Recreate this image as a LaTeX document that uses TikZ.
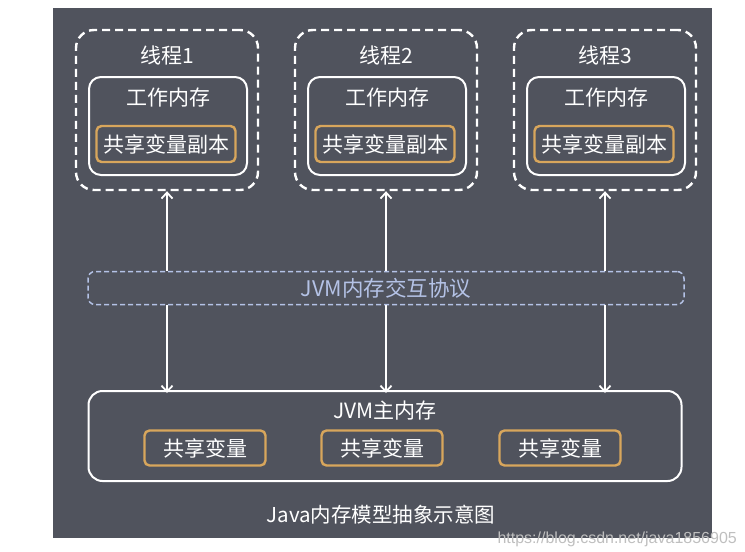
\documentclass[tikz,border=0pt]{standalone}
\usepackage{fontspec}
\setmainfont{Noto Sans CJK SC}
\newfontfamily\wmfont{Liberation Sans}
\usetikzlibrary{arrows.meta}
\definecolor{bgdark}{HTML}{50535D}
\definecolor{copyorange}{HTML}{D8A65C}
\definecolor{protoblue}{HTML}{B4C2E6}
\begin{document}
\begin{tikzpicture}[x=1pt,y=-1pt,
    threadbox/.style={draw=white, line width=2.4pt, dash pattern=on 8pt off 5pt, rounded corners=18pt, minimum width=182pt, minimum height=160pt},
    workbox/.style={draw=white, line width=2pt, rounded corners=12pt, minimum width=158pt, minimum height=98pt},
    copybox/.style={draw=copyorange, line width=2.4pt, rounded corners=5pt, minimum width=139pt, minimum height=36pt, text=white, font=\fontsize{21}{23}\selectfont},
    varbox/.style={draw=copyorange, line width=2.4pt, rounded corners=5pt, minimum width=121pt, minimum height=35pt, text=white, font=\fontsize{21}{23}\selectfont},
    lbl/.style={text=white, font=\fontsize{21}{23}\selectfont},
    arr/.style={draw=white, line width=1.8pt, -{Straight Barb[length=6pt,width=11pt]}}]
     \fill[bgdark] (53,8) rectangle (712,538);
     \useasboundingbox (0,0) rectangle (745,552);
     % threads
     \foreach \i/\x in {1/167,2/386,3/605}{
       \node[threadbox] (thr\i) at (\x,110) {};
       \node[workbox] (work\i) at (\x+1,126) {};
       \node[copybox] (copy\i) at (\x-1,144) {共享变量副本};
       \node[lbl] (thrlbl\i) at (\x,55) {线程\i};
       \node[lbl] (worklbl\i) at (\x+1,98) {工作内存};
     }
     % protocol
     \node[draw=protoblue, line width=1.5pt, dash pattern=on 5pt off 3pt, rounded corners=7pt,
           minimum width=596pt, minimum height=33pt, text=protoblue,
           font=\fontsize{21.5}{23}\selectfont] (proto) at (386,288) {JVM内存交互协议};
     % main memory
     \node[draw=white, line width=2pt, rounded corners=14pt, minimum width=593pt, minimum height=90pt] (main) at (385,436) {};
     \node[lbl] (mainlbl) at (385,411) {JVM主内存};
     \node[varbox] (var1) at (205,448) {共享变量};
     \node[varbox] (var2) at (382,448) {共享变量};
     \node[varbox] (var3) at (560,448) {共享变量};
     % arrows
     \foreach \i in {1,2,3}{
       \draw[arr] (proto.north -| thr\i) -- (thr\i.south);
       \draw[arr] (proto.south -| thr\i) -- ([yshift=-3pt]main.north -| thr\i);
     }
     \node[lbl, font=\fontsize{20.5}{22}\selectfont] (caption) at (381,515) {Java内存模型抽象示意图};
     \node[text=black!25, font=\wmfont\fontsize{16}{18}\selectfont, anchor=west] (wmark) at (494,539) {https://blog.csdn.net/java1856905};
\end{tikzpicture}
\end{document}
